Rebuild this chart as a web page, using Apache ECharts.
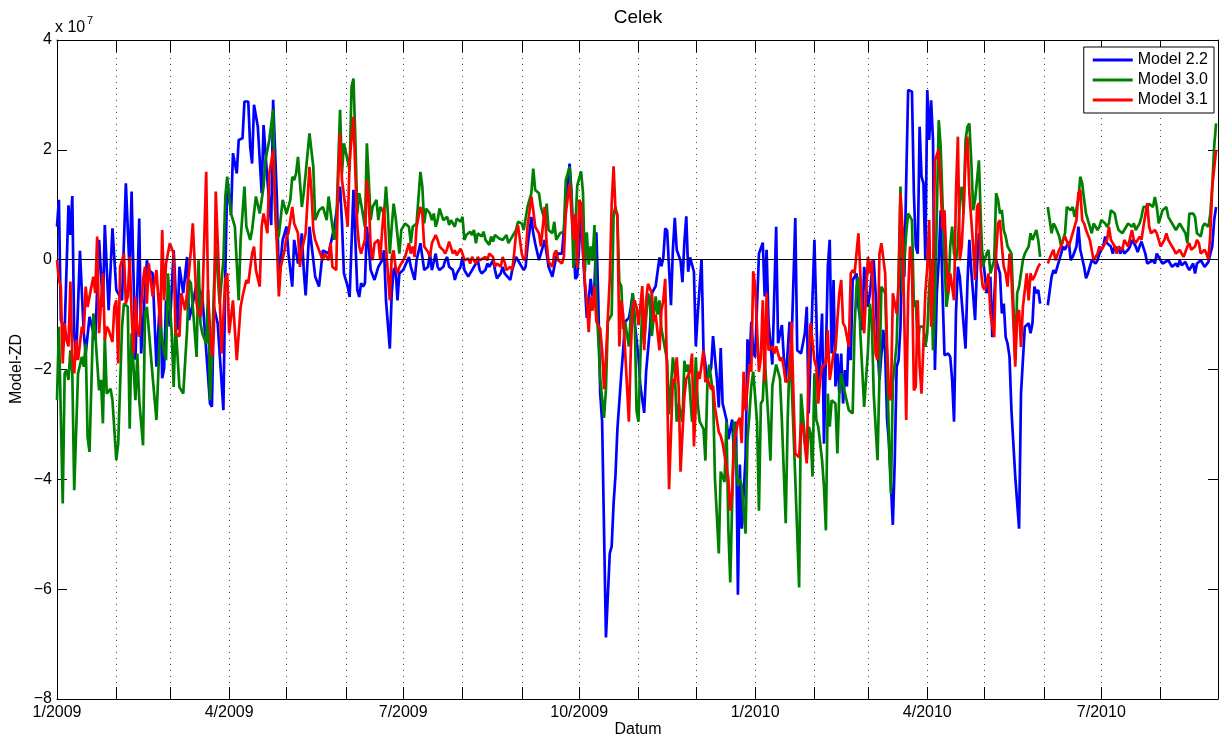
<!DOCTYPE html>
<html>
<head>
<meta charset="utf-8">
<script src="https://cdn.jsdelivr.net/npm/echarts@6/dist/echarts.min.js"></script>
<style>
html,body{margin:0;padding:0;background:#fff;}
#chart{width:1219px;height:738px;}
</style>
</head>
<body>
<div id="chart"></div>
<script>
// Values are in units of 1e7, x = days since 1 Jan 2009
const yTicks = [-8, -6, -4, -2, 0, 2, 4];
const seriesNames = ['Model 2.2', 'Model 3.0', 'Model 3.1'];

const model22 = [[0,0.60],[1,1.09],[2,-1.10],[4,-1.28],[6,0.99],[7,0.45],[8,1.16],[9,-1.34],[10,-1.82],[12,0.16],[14,-1.34],[15,-1.71],[17,-1.04],[20,-1.46],[22,0.36],[24,-0.86],[25,0.63],[27,-0.92],[29,0.57],[31,-0.55],[34,-0.74],[36,1.39],[38,-0.25],[39,1.24],[41,-1.82],[43,0.75],[44,-1.71],[47,-0.01],[48,-0.19],[50,-0.25],[52,-1.95],[54,-0.61],[55,-2.16],[56,-1.98],[57,-0.74],[59,-1.22],[61,0.17],[63,-1.28],[64,-0.13],[66,-0.61],[68,0.05],[69,-1.10],[71,-0.80],[73,-0.43],[76,-0.67],[80,-2.62],[81,-2.68],[82,-0.86],[84,-1.16],[87,-2.74],[88,-0.25],[89,1.45],[91,0.84],[92,1.94],[94,1.57],[95,2.18],[97,2.21],[98,2.88],[100,2.88],[101,2.06],[102,1.75],[103,2.82],[105,2.42],[107,1.21],[108,2.45],[110,1.45],[112,0.63],[113,2.91],[115,1.09],[116,-0.37],[118,0.36],[120,0.60],[121,0.11],[123,-0.49],[124,0.36],[126,-0.07],[128,0.48],[129,-0.19],[130,-0.65],[132,0.60],[135,-0.31],[137,-0.49],[139,0.17],[142,0.11],[145,0.60],[148,1.33],[149,0.66],[150,-0.25],[151,-0.25],[152,-0.49],[153,-0.68],[155,1.27],[156,0.36],[157,-0.55],[158,-0.68],[159,-0.43],[160,-0.49],[161,-0.43],[162,0.60],[163,0.24],[164,-0.19],[165,-0.19],[166,-0.37],[168,-0.13],[169,-0.13],[170,-0.01],[171,0.17],[172,-0.74],[174,-1.62],[175,-0.61],[176,-0.19],[177,-0.13],[178,-0.74],[179,-0.25],[181,-0.19],[182,-0.19],[184,0.05],[185,-0.13],[186,-0.25],[187,-0.37],[188,-0.01],[190,0.30],[191,0.05],[192,-0.19],[194,-0.13],[195,0.11],[196,-0.19],[198,0.11],[199,-0.13],[200,-0.19],[202,-0.13],[203,-0.01],[204,0.05],[205,-0.13],[207,-0.19],[208,-0.37],[209,-0.25],[211,-0.13],[212,0.05],[213,-0.19],[215,-0.31],[216,-0.25],[217,-0.19],[219,-0.07],[220,-0.01],[221,-0.19],[222,-0.25],[224,-0.19],[225,-0.07],[226,-0.13],[228,-0.01],[229,-0.19],[230,-0.34],[232,-0.25],[233,-0.13],[234,-0.25],[235,-0.28],[237,-0.37],[238,-0.19],[239,-0.07],[240,0.05],[241,-0.01],[243,-0.13],[244,-0.19],[245,-0.13],[246,0.24],[248,0.78],[249,0.48],[250,0.30],[252,-0.01],[253,-0.04],[255,0.36],[256,0.11],[257,-0.13],[259,-0.31],[260,-0.13],[261,0.05],[262,0.11],[264,0.11],[265,0.11],[266,0.96],[268,1.75],[269,1.22],[270,0.31],[271,-0.35],[272,-0.30],[273,0.24],[274,0.96],[275,0.11],[276,-0.48],[277,-1.06],[278,-0.74],[279,-0.35],[280,-0.67],[281,-0.48],[282,0.50],[283,-0.74],[284,-2.43],[285,-2.95],[287,-6.88],[289,-5.35],[290,-5.22],[291,-4.44],[292,-3.92],[293,-3.08],[295,-2.10],[296,-1.65],[297,-1.13],[299,-1.06],[300,-0.87],[301,-0.61],[302,-1.13],[304,-1.78],[305,-2.30],[307,-2.79],[308,-2.04],[310,-1.25],[311,-0.61],[313,-0.48],[315,0.04],[316,-0.12],[317,0.04],[318,0.57],[319,0.53],[321,-0.83],[322,0.18],[323,0.76],[324,0.18],[326,-0.02],[327,-0.41],[328,0.31],[329,0.79],[330,-0.22],[331,0.04],[333,-0.22],[334,-1.58],[335,-0.99],[337,0.01],[338,-1.65],[340,-2.17],[342,-1.97],[343,-1.39],[345,-2.17],[346,-2.69],[347,-1.61],[348,-2.62],[350,-2.91],[351,-3.27],[353,-2.91],[354,-3.60],[355,-2.95],[356,-6.10],[357,-3.73],[358,-4.90],[360,-3.60],[361,-1.45],[362,-1.91],[363,-1.13],[364,-1.65],[365,-1.78],[367,0.11],[369,0.31],[370,-0.67],[371,0.18],[372,-1.13],[374,-1.91],[376,0.60],[377,-1.52],[379,-1.19],[380,-1.78],[381,-2.23],[383,-1.13],[384,-1.58],[386,0.76],[387,-1.65],[389,-1.71],[391,-1.34],[392,-0.86],[393,-2.80],[394,-2.80],[396,0.36],[397,-0.98],[398,-2.44],[399,-2.44],[400,-0.98],[401,-3.35],[403,-0.13],[404,0.36],[405,-1.71],[406,-0.37],[407,-2.31],[408,-1.71],[409,-2.44],[410,-1.71],[411,-2.62],[412,-2.01],[413,-2.31],[414,-1.34],[415,-1.83],[416,-0.37],[418,-0.25],[419,-0.86],[420,-1.10],[421,-1.28],[422,-0.13],[424,-0.86],[425,-0.61],[426,-0.25],[427,-0.01],[428,-0.61],[429,-1.59],[430,-2.19],[432,-1.28],[433,-1.71],[434,-2.92],[435,-3.35],[437,-4.83],[438,-3.65],[439,-1.95],[440,-1.83],[441,-1.22],[442,0.60],[443,-0.31],[444,1.45],[445,3.09],[447,3.06],[448,1.21],[449,0.24],[450,0.11],[451,2.42],[452,1.51],[453,1.39],[454,-0.01],[455,3.09],[456,2.18],[457,2.90],[458,2.18],[459,-2.01],[460,-0.61],[461,-0.01],[462,0.90],[463,-0.61],[464,-1.74],[466,-1.71],[467,-1.77],[468,-2.19],[469,-2.95],[470,-0.98],[471,-0.13],[472,-0.31],[473,-0.31],[475,-1.62],[476,-0.43],[477,0.36],[478,-0.19],[480,-1.10],[481,-0.13],[482,0.48],[484,0.05],[485,-0.25],[486,-0.61],[488,-0.31],[489,-1.41],[490,-1.41],[491,-0.01],[493,-0.25],[494,-0.98],[495,-0.80],[496,-1.41],[497,-1.53],[498,-1.77],[499,-2.74],[501,-3.95],[503,-4.90],[504,-2.44],[506,-1.22],[508,-1.16],[509,-1.34],[510,-1.16],[511,-0.49],[512,-0.61],[513,-0.55],[514,-0.80],[516,null],[518,-0.83],[520,-0.31],[521,-0.19],[522,-0.25],[524,-0.01],[525,0.11],[526,0.24],[527,0.18],[529,0.33],[530,-0.01],[531,0.05],[533,0.24],[534,0.60],[535,0.18],[537,-0.13],[538,-0.34],[539,-0.25],[540,-0.13],[541,-0.01],[543,-0.07],[544,-0.01],[545,0.11],[547,0.24],[548,0.42],[549,0.30],[551,0.24],[552,0.11],[553,0.24],[555,0.18],[556,0.11],[557,0.21],[558,0.11],[560,0.18],[561,0.24],[562,0.36],[564,0.24],[565,0.14],[566,0.24],[567,0.33],[569,0.11],[570,-0.07],[571,-0.04],[573,-0.01],[574,-0.07],[575,0.11],[577,-0.01],[578,-0.07],[579,-0.04],[581,-0.01],[582,-0.07],[583,-0.13],[585,-0.07],[586,-0.13],[587,-0.01],[588,-0.10],[590,-0.04],[591,-0.13],[592,-0.19],[594,-0.07],[595,-0.25],[596,-0.07],[598,-0.01],[599,-0.07],[600,-0.13],[602,-0.04],[603,0.11],[604,0.24],[605,0.72],[606,0.96]];

const model30 = [[0,-2.56],[1,-1.22],[3,-4.44],[4,-2.07],[5,-2.01],[6,-2.19],[7,-1.65],[8,-2.07],[9,-4.20],[10,-4.17],[11,-2.07],[13,-1.77],[14,-1.95],[15,-1.53],[16,-3.23],[17,-3.50],[19,-0.98],[20,-1.34],[22,-2.38],[23,-2.19],[24,-2.98],[25,-1.40],[26,-2.44],[28,-2.35],[29,-2.56],[31,-3.65],[32,-3.35],[34,-1.22],[35,-0.80],[37,-0.86],[38,-3.08],[39,-1.34],[41,-2.56],[42,-1.71],[43,-2.56],[45,-3.38],[46,-0.98],[47,-0.86],[48,-1.28],[50,-2.13],[52,-2.92],[54,-1.16],[55,-1.46],[57,-1.83],[58,-0.25],[60,-1.34],[61,-2.32],[62,-1.16],[64,-2.32],[66,-2.44],[68,-1.28],[69,-0.37],[70,-0.43],[71,-0.86],[73,-1.77],[74,-0.01],[75,-1.16],[76,-1.34],[78,-1.53],[79,-0.55],[80,-2.56],[81,-1.83],[82,-0.55],[83,0.24],[85,-0.80],[87,-0.01],[88,1.15],[89,1.51],[91,0.84],[93,0.60],[95,-0.74],[96,0.36],[98,1.33],[99,0.60],[101,0.36],[102,0.54],[104,1.15],[106,0.84],[108,1.33],[109,1.81],[111,2.18],[113,2.73],[114,0.90],[115,0.36],[116,0.45],[118,1.09],[120,0.84],[122,1.09],[123,1.51],[124,1.45],[125,1.57],[126,1.87],[128,0.96],[129,1.21],[130,1.57],[132,2.30],[134,1.69],[135,0.72],[137,0.90],[139,0.96],[141,0.72],[142,1.15],[144,0.60],[145,0.36],[146,0.60],[147,1.69],[148,2.73],[149,1.57],[150,2.12],[151,2.12],[153,1.63],[154,3.15],[155,3.30],[156,2.18],[157,0.84],[158,1.21],[159,1.02],[160,1.02],[161,0.60],[162,2.12],[163,1.45],[164,0.72],[165,0.96],[167,1.09],[168,0.72],[169,0.96],[171,0.84],[172,1.33],[173,0.84],[174,0.11],[175,0.60],[176,1.02],[177,0.78],[179,0.11],[180,0.54],[181,0.51],[182,0.66],[184,0.60],[185,0.30],[186,0.60],[188,0.66],[190,1.60],[191,1.33],[192,0.66],[193,0.93],[195,0.84],[196,0.72],[197,0.84],[198,0.60],[199,0.72],[200,0.93],[202,0.72],[203,0.69],[204,0.78],[205,0.63],[206,0.72],[208,0.60],[209,0.75],[211,0.69],[212,0.78],[213,0.36],[214,0.45],[216,0.51],[217,0.45],[218,0.54],[219,0.30],[220,0.48],[222,0.42],[223,0.51],[224,0.36],[226,0.27],[227,0.42],[228,0.33],[229,0.45],[231,0.39],[233,0.36],[235,0.45],[236,0.30],[238,0.42],[240,0.54],[241,0.69],[243,0.66],[244,0.54],[246,0.96],[248,1.21],[249,1.66],[250,1.27],[252,1.21],[253,0.96],[255,0.72],[256,1.02],[257,0.54],[259,0.48],[260,0.69],[261,0.36],[263,0.48],[264,0.48],[265,0.51],[266,1.45],[268,1.69],[269,1.15],[270,-0.15],[272,1.35],[273,1.35],[274,1.61],[275,1.22],[276,-0.22],[277,0.50],[278,-0.09],[279,0.24],[280,-0.02],[281,0.63],[282,-0.74],[283,-1.45],[284,-2.17],[286,-2.88],[287,-2.36],[288,-1.13],[290,-1.00],[291,0.83],[292,0.96],[293,0.76],[294,-0.41],[295,-0.48],[296,-1.26],[297,-1.13],[299,-1.58],[300,-1.00],[301,-0.61],[302,-1.00],[303,-2.75],[304,-2.95],[305,-1.78],[306,-0.87],[307,-1.52],[309,-0.61],[310,-0.80],[311,-1.39],[313,-0.67],[314,-1.00],[315,-0.74],[316,-1.26],[317,-1.45],[319,-1.84],[320,-2.82],[322,-1.78],[323,-2.04],[324,-2.95],[325,-2.62],[327,-2.95],[328,-1.84],[329,-2.04],[330,-1.91],[332,-2.95],[333,-2.82],[334,-1.78],[335,-2.62],[336,-2.95],[338,-3.08],[339,-3.66],[340,-2.30],[341,-1.91],[343,-2.43],[344,-3.99],[346,-5.35],[347,-3.86],[348,-3.86],[349,-4.05],[350,-2.95],[351,-4.90],[352,-5.88],[353,-5.91],[354,-2.95],[355,-3.60],[356,-4.12],[357,-3.99],[358,-4.12],[360,-4.99],[361,-3.27],[362,-2.82],[363,-2.30],[364,-2.04],[366,-2.95],[367,-4.57],[368,-2.62],[369,-2.56],[370,-1.78],[372,-2.95],[373,-3.66],[374,-2.30],[376,-1.91],[377,-2.04],[378,-2.17],[379,-2.95],[381,-4.80],[382,-2.95],[383,-1.78],[384,-2.17],[386,-3.99],[388,-5.97],[389,-2.44],[390,-2.44],[392,-3.65],[393,-3.04],[394,-3.16],[395,-3.95],[396,-2.07],[397,-2.92],[398,-3.04],[400,-3.65],[401,-4.14],[402,-4.93],[403,-2.44],[404,-3.04],[405,-2.56],[407,-2.62],[408,-3.53],[409,-2.44],[410,-2.07],[412,-2.44],[414,-2.74],[415,-2.74],[416,-2.80],[417,-1.22],[418,-0.49],[419,-0.31],[420,-1.34],[421,-1.34],[422,-2.68],[424,-1.65],[425,-0.80],[426,-1.10],[427,-2.44],[429,-3.65],[430,-2.13],[431,-0.49],[433,-0.61],[434,-1.83],[435,-3.35],[436,-4.26],[437,-2.25],[439,-1.53],[440,-0.31],[441,1.33],[442,-0.61],[443,-0.01],[444,0.48],[445,0.84],[447,0.72],[448,-0.86],[449,-0.74],[450,-1.59],[451,-1.22],[453,-1.22],[454,-1.59],[455,-1.34],[456,-0.49],[457,-0.01],[458,-1.65],[459,-0.86],[461,2.54],[462,2.06],[463,1.02],[464,-0.01],[465,-0.86],[466,-0.61],[467,0.24],[468,0.60],[469,0.11],[470,-0.01],[471,0.24],[472,1.09],[473,1.33],[474,0.84],[475,2.18],[476,2.42],[477,2.48],[478,1.81],[479,0.90],[480,1.09],[482,1.81],[483,0.72],[484,-0.13],[485,-0.01],[486,0.11],[487,0.18],[488,-0.25],[490,-0.01],[491,1.21],[492,1.09],[493,0.84],[494,0.90],[495,0.54],[496,0.42],[497,0.24],[499,0.11],[500,-0.80],[501,-1.83],[502,-0.61],[503,-0.49],[504,-0.49],[505,-0.01],[506,0.11],[508,0.24],[509,0.48],[510,0.36],[512,0.54],[513,0.36],[514,0.05],[516,null],[518,0.96],[520,0.48],[521,0.66],[522,0.60],[524,0.42],[525,0.24],[526,0.36],[527,0.48],[528,0.96],[530,0.90],[531,0.96],[532,0.78],[534,1.09],[535,1.51],[536,1.39],[537,1.09],[538,0.84],[540,0.60],[541,0.48],[542,0.66],[544,0.54],[545,0.60],[546,0.72],[548,0.66],[549,0.60],[550,0.66],[551,0.90],[553,0.84],[554,0.66],[555,0.54],[557,0.48],[558,0.54],[559,0.60],[560,0.66],[562,0.60],[563,0.66],[564,0.54],[566,0.66],[567,0.78],[568,0.96],[569,0.96],[570,0.96],[571,1.02],[573,0.96],[574,1.14],[575,0.96],[576,0.66],[577,0.78],[578,0.90],[580,0.96],[581,0.78],[582,0.72],[584,0.60],[585,0.54],[586,0.60],[587,0.66],[588,0.60],[590,0.48],[591,0.30],[592,0.84],[594,0.84],[595,0.78],[596,0.48],[598,0.42],[599,0.60],[600,0.66],[602,0.60],[603,0.84],[604,1.33],[605,2.06],[606,2.48]];

const model31 = [[0,-0.01],[1,-0.37],[2,-0.49],[3,-1.89],[4,-1.16],[5,-1.46],[6,-1.58],[7,-0.40],[8,-1.77],[9,-2.07],[10,-1.46],[11,-1.83],[13,-1.22],[14,-1.34],[15,-0.49],[16,-0.86],[17,-0.67],[19,-0.31],[20,-0.61],[21,0.42],[22,-1.34],[24,-0.25],[25,-1.46],[26,-1.22],[27,-1.28],[29,-1.50],[30,-0.86],[31,-0.74],[32,-1.89],[33,-0.13],[35,0.11],[36,-0.80],[37,-0.67],[38,0.05],[39,-0.98],[40,-1.71],[41,-0.67],[42,-1.28],[43,-1.40],[45,-0.37],[46,-0.13],[47,-0.80],[48,-0.07],[50,-0.67],[52,-0.19],[54,-1.22],[55,0.54],[56,-0.74],[57,-0.07],[59,0.30],[61,0.11],[62,-1.34],[64,-1.40],[65,-0.61],[67,-0.92],[68,-0.61],[70,0.17],[71,0.66],[73,-0.80],[74,-0.98],[75,-1.04],[76,-0.80],[78,1.60],[79,-0.67],[81,-1.77],[82,-1.34],[83,1.24],[85,-0.55],[86,-1.71],[88,-0.37],[89,-0.25],[90,-1.34],[92,-0.74],[94,-1.83],[96,-0.86],[97,-0.67],[99,-0.37],[100,-0.43],[102,0.11],[103,0.24],[104,-0.19],[106,-0.49],[107,0.60],[108,0.84],[110,0.48],[111,1.57],[113,1.99],[114,1.09],[115,0.24],[116,-0.67],[117,-0.13],[119,0.17],[120,0.42],[121,0.48],[123,0.96],[124,0.66],[126,0.48],[127,-0.13],[128,0.17],[130,0.48],[132,1.69],[133,1.27],[134,0.54],[135,0.36],[137,0.17],[139,-0.01],[140,0.11],[142,-0.01],[143,0.30],[144,-0.13],[146,-0.19],[147,1.45],[148,2.30],[149,1.45],[151,0.90],[152,0.60],[153,1.81],[155,2.60],[156,1.57],[157,0.60],[158,0.24],[159,0.11],[160,0.24],[161,0.36],[162,1.45],[163,1.09],[164,0.24],[165,-0.01],[166,0.30],[168,0.36],[169,-0.01],[170,0.54],[171,0.96],[172,0.24],[173,-0.25],[174,-0.74],[175,0.05],[176,0.17],[177,-0.13],[178,-0.25],[179,-0.13],[181,-0.01],[182,0.05],[184,0.30],[185,0.11],[186,0.24],[187,0.05],[188,0.60],[190,0.96],[191,0.84],[192,0.24],[194,0.14],[195,0.05],[196,0.30],[198,0.45],[199,0.36],[200,0.24],[202,0.17],[203,0.11],[204,0.20],[205,0.33],[207,0.11],[208,0.17],[209,0.08],[211,0.20],[212,0.11],[213,-0.01],[215,0.02],[216,-0.07],[217,0.05],[219,-0.07],[220,0.05],[221,-0.01],[222,-0.04],[224,0.05],[225,-0.01],[226,0.11],[228,0.05],[229,-0.13],[230,-0.07],[232,-0.13],[233,0.05],[234,-0.04],[235,-0.19],[237,-0.13],[238,-0.19],[239,0.11],[240,0.48],[241,0.63],[243,0.11],[244,-0.01],[245,0.05],[246,0.60],[248,1.15],[249,0.90],[250,0.60],[252,0.48],[253,0.24],[255,0.96],[256,0.30],[257,-0.04],[259,-0.13],[260,0.11],[261,0.17],[262,-0.01],[264,-0.07],[265,0.05],[266,0.84],[268,1.39],[269,0.84],[270,0.37],[271,0.83],[272,-0.15],[273,1.09],[274,1.02],[275,0.18],[276,-0.41],[277,-0.74],[278,-1.32],[279,-0.67],[280,-0.93],[281,-0.48],[282,-1.13],[284,-1.26],[285,-1.65],[286,-2.36],[287,-1.78],[289,-0.35],[290,1.02],[291,1.70],[292,0.89],[293,0.83],[294,-1.58],[295,-0.74],[296,-1.00],[297,-1.65],[299,-2.95],[300,-1.65],[301,-0.87],[302,-0.74],[303,-0.87],[304,-1.19],[306,-0.48],[307,-1.65],[308,-0.74],[309,-0.44],[311,-0.61],[312,-1.13],[313,-1.00],[315,-1.65],[316,-0.93],[317,-0.74],[318,-0.35],[319,-2.30],[320,-4.18],[322,-2.17],[323,-2.23],[324,-1.78],[325,-2.30],[326,-3.86],[327,-3.86],[328,-2.49],[329,-2.17],[331,-2.04],[332,-1.71],[333,-3.40],[334,-2.62],[335,-2.04],[336,-2.17],[338,-1.65],[339,-2.23],[340,-2.17],[342,-2.36],[343,-2.30],[344,-2.69],[346,-3.14],[347,-3.21],[348,-3.34],[349,-3.34],[351,-3.99],[352,-4.57],[353,-4.25],[354,-3.34],[356,-2.95],[357,-2.88],[358,-3.34],[359,-2.04],[360,-2.75],[362,-1.91],[363,-2.04],[364,-0.21],[365,-0.48],[367,-2.04],[368,-1.78],[369,-0.74],[370,-2.23],[371,-0.61],[372,-1.65],[374,-1.58],[375,-1.71],[376,-1.58],[378,-1.84],[379,-1.78],[380,-1.97],[381,-2.23],[383,-2.17],[384,-1.13],[385,-2.43],[386,-3.53],[388,-3.60],[389,-2.98],[390,-3.04],[392,-3.71],[393,-1.83],[394,-1.16],[396,-1.83],[397,-1.95],[398,-2.62],[399,-2.19],[400,-1.95],[402,-1.89],[403,-1.28],[404,-2.19],[405,-2.19],[406,-1.71],[407,-1.65],[408,-1.10],[409,-0.61],[410,-0.37],[411,-1.16],[412,-1.22],[414,-1.59],[415,-0.25],[416,-0.19],[417,-0.25],[418,-0.25],[419,0.48],[420,0.48],[421,-0.98],[422,-1.34],[423,-0.61],[424,0.05],[425,-0.25],[426,-0.01],[427,-1.10],[428,-1.71],[429,-1.83],[430,0.11],[431,0.30],[433,-0.25],[434,-1.59],[435,-2.44],[436,-2.56],[437,-0.61],[439,-0.98],[440,-0.49],[441,1.21],[442,0.60],[443,-1.10],[444,-2.92],[445,-0.61],[446,0.24],[447,-0.13],[448,-2.38],[449,-2.31],[450,-0.74],[451,-1.95],[452,-2.44],[453,-2.47],[454,-0.61],[455,-0.13],[456,0.72],[457,-1.22],[458,-0.43],[459,1.81],[461,2.00],[462,1.33],[463,0.54],[464,0.90],[465,-0.01],[466,-0.61],[467,-0.25],[469,-0.74],[470,1.21],[471,2.24],[472,-0.01],[473,0.24],[474,0.90],[475,1.87],[476,2.24],[477,1.21],[479,0.24],[480,-0.37],[481,0.96],[482,1.03],[483,-0.19],[484,-0.49],[485,-0.55],[486,-0.43],[487,-0.25],[488,-0.98],[490,-1.41],[491,0.11],[492,0.66],[493,0.72],[494,0.24],[495,-0.13],[496,-0.25],[497,-0.49],[498,0.11],[499,-0.31],[500,-1.10],[501,-1.95],[502,-0.98],[503,-0.92],[504,-1.59],[505,-0.86],[507,-0.25],[508,-0.74],[509,-0.25],[510,-0.37],[511,-0.31],[513,-0.13],[514,-0.07],[516,null],[518,-0.07],[520,0.11],[521,0.18],[522,-0.01],[524,0.18],[525,0.24],[526,0.36],[527,0.42],[529,0.24],[530,0.36],[531,0.48],[533,0.72],[534,1.21],[535,1.27],[536,0.72],[537,0.66],[538,0.54],[540,0.36],[541,0.36],[542,-0.01],[544,0.11],[545,0.24],[546,0.18],[548,0.30],[549,0.36],[550,0.60],[551,0.36],[553,0.24],[554,0.11],[555,0.24],[557,0.18],[558,0.36],[559,0.30],[560,0.24],[562,0.54],[563,0.36],[564,0.30],[566,0.42],[567,0.36],[568,0.60],[570,1.03],[571,0.60],[572,0.48],[574,0.54],[575,0.48],[576,0.36],[577,0.24],[579,0.36],[580,0.48],[581,0.36],[583,0.24],[584,0.18],[585,0.11],[587,0.18],[588,0.11],[589,0.05],[591,0.24],[592,0.30],[593,0.18],[595,0.24],[596,0.36],[597,0.30],[598,0.11],[600,0.18],[601,0.11],[602,-0.01],[603,0.48],[604,1.33],[606,2.00]];

const DAY = 86400000;
const T0 = new Date(2009, 0, 1).getTime();
const TMAX = new Date(2010, 7, 31).getTime();
const FONT = '"Liberation Sans", Arial, Helvetica, sans-serif';

function toData(arr) {
  return arr.map(p => [T0 + p[0] * DAY, p[1] === null ? '-' : p[1]]);
}

const chart = echarts.init(document.getElementById('chart'), null, {renderer: 'canvas'});

function monthLabel(v) {
  const d = new Date(v);
  const m = d.getMonth();
  if (d.getDate() !== 1 || m % 3 !== 0) return '';
  return (m + 1) + '/' + d.getFullYear();
}

const commonX = {
  type: 'time',
  min: T0,
  max: TMAX,
  splitNumber: 20,
  minInterval: 28 * DAY,
  maxInterval: 31 * DAY,
  axisLine: {show: true, onZero: false, lineStyle: {color: '#000', width: 1}},
  axisTick: {show: true, inside: true, length: 12, lineStyle: {color: '#000', width: 1}},
  minorTick: {show: false},
};

const option = {
  animation: false,
  backgroundColor: '#fff',
  grid: {left: 57, right: 1, top: 40, bottom: 39, containLabel: false},
  legend: {
    show: true,
    data: seriesNames,
    orient: 'vertical',
    right: 5,
    top: 47,
    icon: 'rect',
    itemWidth: 40,
    itemHeight: 3,
    itemGap: 4,
    padding: [5, 6, 5, 9],
    borderColor: '#000',
    borderWidth: 1,
    backgroundColor: '#fff',
    textStyle: {fontFamily: FONT, fontSize: 16, color: '#000', padding: [0, 0, 0, 0], lineHeight: 16}
  },
  xAxis: [
    Object.assign({}, commonX, {
      position: 'bottom',
      axisLabel: {show: true, interval: 0, formatter: monthLabel, fontFamily: FONT, fontSize: 16, color: '#000', margin: 6, hideOverlap: false},
      splitLine: {show: true, lineStyle: {color: '#444', width: 1, type: [1, 5]}}
    }),
    Object.assign({}, commonX, {
      position: 'top',
      axisLabel: {show: false},
      splitLine: {show: false}
    })
  ],
  yAxis: [
    {
      type: 'value', min: yTicks[0], max: yTicks[yTicks.length - 1], interval: 2,
      position: 'left',
      axisLine: {show: true, onZero: false, lineStyle: {color: '#000', width: 1}},
      axisTick: {show: true, inside: true, length: 10, lineStyle: {color: '#000'}},
      axisLabel: {show: true, margin: 5, fontFamily: FONT, fontSize: 16, color: '#000',
        formatter: v => (v < 0 ? '\u2212' + Math.abs(v) : String(v))},
      splitLine: {show: false}
    },
    {
      type: 'value', min: yTicks[0], max: yTicks[yTicks.length - 1], interval: 2,
      position: 'right',
      axisLine: {show: true, onZero: false, lineStyle: {color: '#000', width: 1}},
      axisTick: {show: true, inside: true, length: 10, lineStyle: {color: '#000'}},
      axisLabel: {show: false},
      splitLine: {show: false}
    }
  ],
  graphic: [
    {type: 'text', x: 638, y: 18, style: {text: 'Celek', font: '19px ' + FONT, fill: '#000', textAlign: 'center', textVerticalAlign: 'middle'}},
    {type: 'text', x: 638, y: 730, style: {text: 'Datum', font: '16px ' + FONT, fill: '#000', textAlign: 'center', textVerticalAlign: 'middle'}},
    {type: 'text', x: 17, y: 369, rotation: Math.PI / 2, style: {text: 'Model-ZD', font: '16px ' + FONT, fill: '#000', textAlign: 'center', textVerticalAlign: 'middle'}},
    {type: 'text', x: 55, y: 28, style: {text: 'x 10', font: '16px ' + FONT, fill: '#000', textAlign: 'left', textVerticalAlign: 'middle'}},
    {type: 'text', x: 87, y: 21, style: {text: '7', font: '11px ' + FONT, fill: '#000', textAlign: 'left', textVerticalAlign: 'middle'}}
  ],
  series: [
    {name: seriesNames[0], type: 'line', data: toData(model22), showSymbol: false, symbol: 'none', connectNulls: false,
      lineStyle: {color: '#0000ff', width: 2.7}, itemStyle: {color: '#0000ff'}, z: 2},
    {name: seriesNames[1], type: 'line', data: toData(model30), showSymbol: false, symbol: 'none', connectNulls: false,
      lineStyle: {color: '#008000', width: 2.7}, itemStyle: {color: '#008000'}, z: 3},
    {name: seriesNames[2], type: 'line', data: toData(model31), showSymbol: false, symbol: 'none', connectNulls: false,
      lineStyle: {color: '#ff0000', width: 2.7}, itemStyle: {color: '#ff0000'}, z: 4,
      markLine: {silent: true, symbol: 'none', label: {show: false}, animation: false,
        lineStyle: {color: '#000', width: 1, type: 'solid'}, data: [{yAxis: 0}]}},
    {name: 'frame', type: 'line', xAxisIndex: 1, yAxisIndex: 1, data: [[T0, 0], [TMAX, 0]],
      showSymbol: false, symbol: 'none', silent: true, lineStyle: {opacity: 0}, z: 0}
  ]
};
chart.setOption(option);
</script>
</body>
</html>
